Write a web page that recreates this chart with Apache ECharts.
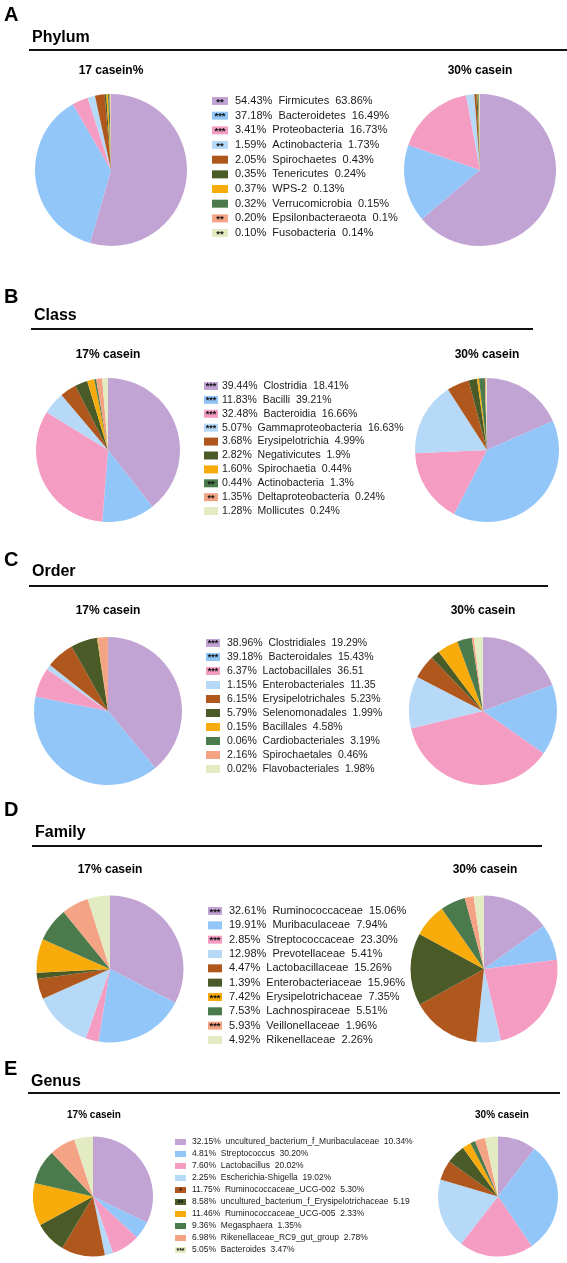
<!DOCTYPE html>
<html>
<head>
<meta charset="utf-8">
<script src="https://cdn.jsdelivr.net/npm/echarts@6/dist/echarts.min.js"></script>
<style>
  html, body { margin: 0; padding: 0; background: #fff; }
  #chart { width: 567px; height: 1263px; }
</style>
</head>
<body>
<div id="chart"></div>
<script>
// colours shared by every level (legend order)
var palette = ['#C1A3D4', '#93C6F8', '#F59CC2', '#B6D9F8', '#B0571E',
               '#4B5B28', '#F8AC0C', '#4B7A4C', '#F5A385', '#E3EBC3'];

// A - Phylum
var phylumNames = ['Firmicutes', 'Bacteroidetes', 'Proteobacteria', 'Actinobacteria', 'Spirochaetes',
                   'Tenericutes', 'WPS-2', 'Verrucomicrobia', 'Epsilonbacteraeota', 'Fusobacteria'];
var phylumLow = [54.43, 37.18, 3.41, 1.59, 2.05, 0.35, 0.37, 0.32, 0.20, 0.10];
var phylumHigh = [63.86, 16.49, 16.73, 1.73, 0.43, 0.24, 0.13, 0.15, 0.1, 0.14];
var phylumHighText = ['63.86%', '16.49%', '16.73%', '1.73%', '0.43%', '0.24%', '0.13%', '0.15%', '0.1%', '0.14%'];
var phylumStars = ['**', '***', '***', '**', '', '', '', '', '**', '**'];

// B - Class
var classNames = ['Clostridia', 'Bacilli', 'Bacteroidia', 'Gammaproteobacteria', 'Erysipelotrichia',
                  'Negativicutes', 'Spirochaetia', 'Actinobacteria', 'Deltaproteobacteria', 'Mollicutes'];
var classLow = [39.44, 11.83, 32.48, 5.07, 3.68, 2.82, 1.60, 0.44, 1.35, 1.28];
var classHigh = [18.41, 39.21, 16.66, 16.63, 4.99, 1.9, 0.44, 1.3, 0.24, 0.24];
var classHighText = ['18.41%', '39.21%', '16.66%', '16.63%', '4.99%', '1.9%', '0.44%', '1.3%', '0.24%', '0.24%'];
var classStars = ['***', '***', '***', '***', '', '', '', '**', '**', ''];

// C - Order
var orderNames = ['Clostridiales', 'Bacteroidales', 'Lactobacillales', 'Enterobacteriales', 'Erysipelotrichales',
                  'Selenomonadales', 'Bacillales', 'Cardiobacteriales', 'Spirochaetales', 'Flavobacteriales'];
var orderLow = [38.96, 39.18, 6.37, 1.15, 6.15, 5.79, 0.15, 0.06, 2.16, 0.02];
var orderHigh = [19.29, 15.43, 36.51, 11.35, 5.23, 1.99, 4.58, 3.19, 0.46, 1.98];
var orderHighText = ['19.29%', '15.43%', '36.51', '11.35', '5.23%', '1.99%', '4.58%', '3.19%', '0.46%', '1.98%'];
var orderStars = ['***', '***', '***', '', '', '', '', '', '', ''];

// D - Family
var familyNames = ['Ruminococcaceae', 'Muribaculaceae', 'Streptococcaceae', 'Prevotellaceae', 'Lactobacillaceae',
                   'Enterobacteriaceae', 'Erysipelotrichaceae', 'Lachnospiraceae', 'Veillonellaceae', 'Rikenellaceae'];
var familyLow = [32.61, 19.91, 2.85, 12.98, 4.47, 1.39, 7.42, 7.53, 5.93, 4.92];
var familyHigh = [15.06, 7.94, 23.30, 5.41, 15.26, 15.96, 7.35, 5.51, 1.96, 2.26];
var familyHighText = ['15.06%', '7.94%', '23.30%', '5.41%', '15.26%', '15.96%', '7.35%', '5.51%', '1.96%', '2.26%'];
var familyStars = ['***', '', '***', '', '', '', '***', '', '***', ''];

// E - Genus
var genusNames = ['uncultured_bacterium_f_Muribaculaceae', 'Streptococcus', 'Lactobacillus', 'Escherichia-Shigella',
                  'Ruminococcaceae_UCG-002', 'uncultured_bacterium_f_Erysipelotrichaceae', 'Ruminococcaceae_UCG-005',
                  'Megasphaera', 'Rikenellaceae_RC9_gut_group', 'Bacteroides'];
var genusLow = [32.15, 4.81, 7.60, 2.25, 11.75, 8.58, 11.46, 9.36, 6.98, 5.05];
var genusHigh = [10.34, 30.20, 20.02, 19.02, 5.30, 5.19, 2.33, 1.35, 2.78, 3.47];
var genusHighText = ['10.34%', '30.20%', '20.02%', '19.02%', '5.30%', '5.19', '2.33%', '1.35%', '2.78%', '3.47%'];
var genusStars = ['', '', '', '', '*', '**', '', '', '', '***'];

var FONT = '"Liberation Sans", Arial, sans-serif';

// layout of each panel
var panels = [
    {letter: 'A', title: 'Phylum', names: phylumNames, low: phylumLow, high: phylumHigh, highText: phylumHighText, stars: phylumStars,
     letterY: 15, titleY: 38, lineY: 50, lineX: [29, 567], subY: 71, subLeft: '17 casein%', subX: [111, 480],
     pieX: [111, 480], pieY: 170, r: 76, boxX: 212, textX: 235, rowY: 101, step: 14.67, fs: 11, boxW: 16, boxH: 8, subFs: 12},
    {letter: 'B', title: 'Class', names: classNames, low: classLow, high: classHigh, highText: classHighText, stars: classStars,
     letterY: 297, titleY: 316, lineY: 329, lineX: [31, 533], subY: 355, subLeft: '17% casein', subX: [108, 487],
     pieX: [108, 487], pieY: 450, r: 72, boxX: 204, textX: 222, rowY: 386, step: 13.9, fs: 10.5, boxW: 14, boxH: 8, subFs: 12},
    {letter: 'C', title: 'Order', names: orderNames, low: orderLow, high: orderHigh, highText: orderHighText, stars: orderStars,
     letterY: 560, titleY: 572, lineY: 586, lineX: [29, 548], subY: 611, subLeft: '17% casein', subX: [108, 483],
     pieX: [108, 483], pieY: 711, r: 74, boxX: 206, textX: 227, rowY: 643, step: 14, fs: 10.5, boxW: 14, boxH: 8, subFs: 12},
    {letter: 'D', title: 'Family', names: familyNames, low: familyLow, high: familyHigh, highText: familyHighText, stars: familyStars,
     letterY: 810, titleY: 833, lineY: 846, lineX: [32, 542], subY: 870, subLeft: '17% casein', subX: [110, 485],
     pieX: [110, 484], pieY: 969, r: 73.5, boxX: 208, textX: 229, rowY: 911, step: 14.33, fs: 11, boxW: 14, boxH: 8, subFs: 12},
    {letter: 'E', title: 'Genus', names: genusNames, low: genusLow, high: genusHigh, highText: genusHighText, stars: genusStars,
     letterY: 1069, titleY: 1082, lineY: 1093, lineX: [28, 560], subY: 1115, subLeft: '17% casein', subX: [94, 502],
     pieX: [93, 498], pieY: 1196.5, r: 60, boxX: 175, textX: 192, rowY: 1142, step: 12, fs: 8.5, boxW: 11, boxH: 6, subFs: 10}
];

function txt(x, y, text, font, align) {
    return {
        type: 'text', x: x, y: y, silent: true,
        style: {text: text, font: font, fill: '#000', textAlign: align || 'left', textVerticalAlign: 'middle'}
    };
}

var series = [];
var graphic = [];

panels.forEach(function (p) {
    // headers
    graphic.push(txt(4, p.letterY, p.letter, 'bold 20px ' + FONT));
    graphic.push(txt(p.lineX[0] + 3, p.titleY, p.title, 'bold 16px ' + FONT));
    graphic.push({
        type: 'line', silent: true,
        shape: {x1: p.lineX[0], y1: p.lineY, x2: p.lineX[1], y2: p.lineY},
        style: {stroke: '#111', lineWidth: 2}
    });
    graphic.push(txt(p.subX[0], p.subY, p.subLeft, 'bold ' + p.subFs + 'px ' + FONT, 'center'));
    graphic.push(txt(p.subX[1], p.subY, '30% casein', 'bold ' + p.subFs + 'px ' + FONT, 'center'));

    // two pies
    [p.low, p.high].forEach(function (vals, k) {
        series.push({
            type: 'pie',
            center: [p.pieX[k], p.pieY],
            radius: p.r,
            startAngle: 90,
            clockwise: true,
            silent: true,
            label: {show: false},
            labelLine: {show: false},
            itemStyle: {borderWidth: 0},
            data: p.names.map(function (n, i) {
                return {name: n, value: vals[i], itemStyle: {color: palette[i]}};
            })
        });
    });

    // legend with significance stars
    p.names.forEach(function (n, i) {
        var y = p.rowY + i * p.step;
        graphic.push({
            type: 'rect', silent: true,
            shape: {x: p.boxX, y: y - p.boxH / 2, width: p.boxW, height: p.boxH},
            style: {fill: palette[i]}
        });
        if (p.stars[i]) {
            graphic.push({
                type: 'text', silent: true, x: p.boxX + p.boxW / 2, y: y + 1,
                style: {text: p.stars[i], font: 'bold ' + (p.fs - 1.5) + 'px ' + FONT, fill: '#111',
                        textAlign: 'center', textVerticalAlign: 'middle'}
            });
        }
        var label = p.low[i].toFixed(2) + '%  ' + n + '  ' + p.highText[i];
        graphic.push({
            type: 'text', silent: true, x: p.textX, y: y,
            style: {text: label, font: p.fs + 'px ' + FONT, fill: '#1a1a1a', textVerticalAlign: 'middle'}
        });
    });
});

var chart = echarts.init(document.getElementById('chart'));
chart.setOption({
    animation: false,
    backgroundColor: '#fff',
    series: series,
    graphic: graphic
});
</script>
</body>
</html>
